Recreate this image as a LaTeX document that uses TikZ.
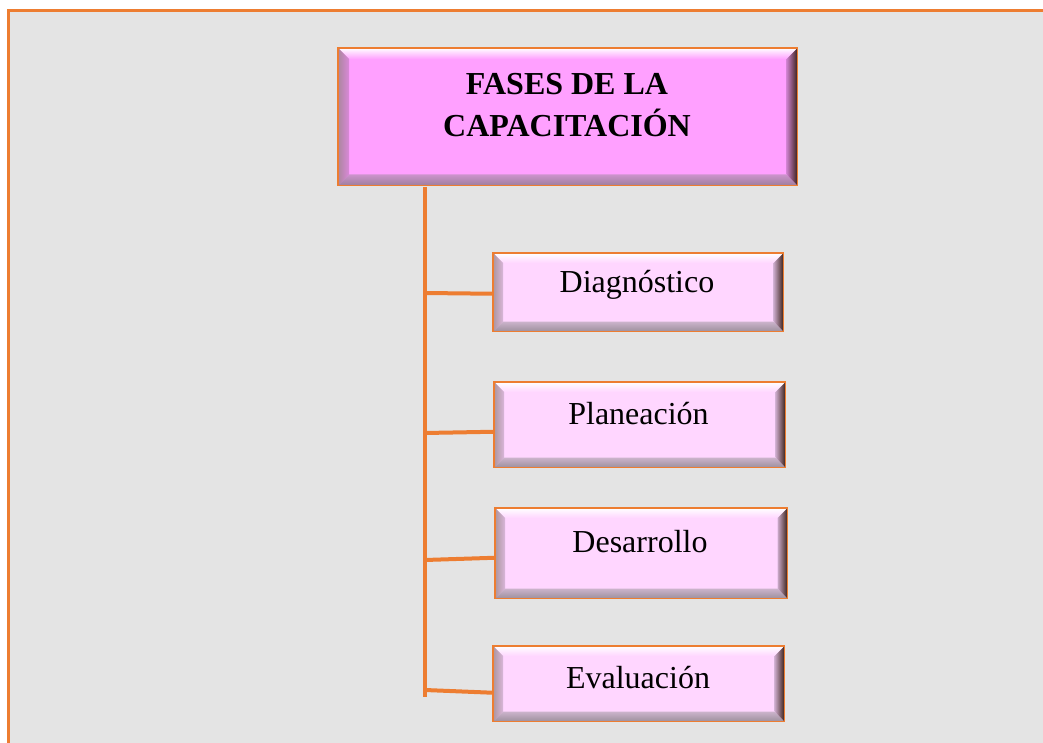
\documentclass[tikz,border=0pt]{standalone}
\usepackage{fontspec}
\setmainfont{Liberation Serif}
\definecolor{frame}{HTML}{ED7D31}
\definecolor{bg}{HTML}{E4E4E4}
\definecolor{titlefill}{HTML}{FFA0FF}
\definecolor{boxfill}{HTML}{FFD6FF}
\definecolor{darkedge}{HTML}{3A2018}
\newcommand\bevelbox[3]{% #1 node name, #2 bevel size (pt), #3 fill colour
  \shade[top color=white, bottom color=#3]
    (#1.north west) -- (#1.north east) -- ([shift={(-#2pt,-#2pt)}]#1.north east) -- ([shift={(#2pt,-#2pt)}]#1.north west) -- cycle;
  \shade[top color=#3!75!black!80!white, bottom color=#3!45!black!70!white]
    (#1.south west) -- (#1.south east) -- ([shift={(-#2pt,#2pt)}]#1.south east) -- ([shift={(#2pt,#2pt)}]#1.south west) -- cycle;
  \shade[left color=#3!80!black, right color=darkedge]
    (#1.north east) -- (#1.south east) -- ([shift={(-#2pt,#2pt)}]#1.south east) -- ([shift={(-#2pt,-#2pt)}]#1.north east) -- cycle;
  \shade[left color=#3!40!darkedge!70!white, right color=#3!85!black]
    (#1.north west) -- (#1.south west) -- ([shift={(#2pt,#2pt)}]#1.south west) -- ([shift={(#2pt,-#2pt)}]#1.north west) -- cycle;
  \draw[frame,line width=1.5pt] (#1.north west) rectangle (#1.south east);
}
\begin{document}
\begin{tikzpicture}[x=1pt,y=-1pt,
  box/.style={draw=frame,line width=1.5pt,inner sep=0pt,anchor=north west},
  conn/.style={draw=frame,line width=4pt},
  lbl/.style={anchor=base,inner sep=0pt,font=\fontsize{32}{42}\selectfont},
  tlbl/.style={anchor=base,inner sep=0pt,align=center,font=\fontsize{32}{42}\selectfont\bfseries}]
\useasboundingbox (0,0) rectangle (1043,743);
\fill[white] (0,0) rectangle (1043,743);
\fill[bg] (8,11) rectangle (1043,743);
\draw[frame,line width=3pt] (8,743) -- (8,11) -- (1043,11);

% boxes
\node[box,fill=titlefill,minimum width=458pt,minimum height=136pt] (title) at (338,48) {};
\node[box,fill=boxfill,minimum width=289pt,minimum height=77pt] (b1) at (493,253) {};
\node[box,fill=boxfill,minimum width=290pt,minimum height=84pt] (b2) at (494,382) {};
\node[box,fill=boxfill,minimum width=291pt,minimum height=89pt] (b3) at (495,508) {};
\node[box,fill=boxfill,minimum width=290pt,minimum height=74pt] (b4) at (493,646) {};

\bevelbox{title}{11}{titlefill}
\bevelbox{b1}{10}{boxfill}
\bevelbox{b2}{10}{boxfill}
\bevelbox{b3}{10}{boxfill}
\bevelbox{b4}{10}{boxfill}

% labels
\node[tlbl] (t1) at (567,95) {FASES DE LA};
\node[tlbl] (t2) at (567,137) {CAPACITACIÓN};
\node[lbl] (l1) at (637,292) {Diagnóstico};
\node[lbl] (l2) at (638.5,424) {Planeación};
\node[lbl] (l3) at (640,552) {Desarrollo};
\node[lbl] (l4) at (638,688) {Evaluación};

% connectors
\coordinate (top) at (425,187);
\coordinate (bot) at (425,697);
\coordinate (j1) at (425,293);
\coordinate (j2) at (425,433);
\coordinate (j3) at (425,560);
\coordinate (j4) at (425,690);
\draw[conn] (top) -- (bot);
\draw[conn] (j1) -- ([yshift=-1.5pt]b1.west);
\draw[conn] (j2) -- ([yshift=-7pt]b2.west);
\draw[conn] (j3) -- ([yshift=-4.5pt]b3.west);
\draw[conn] (j4) -- ([yshift=-9pt]b4.west);
\end{tikzpicture}
\end{document}
